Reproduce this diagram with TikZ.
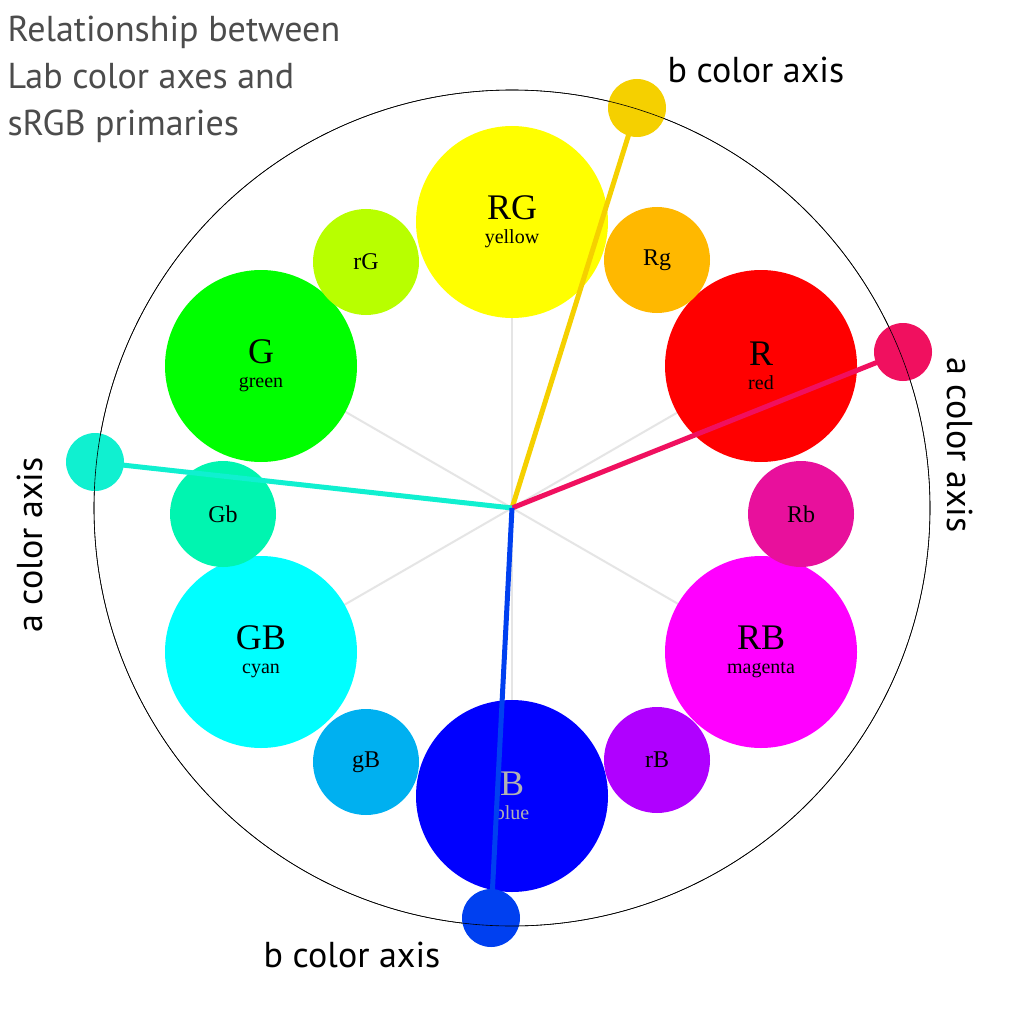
\documentclass[tikz,border=0pt]{standalone}
\usepackage{fontspec}
\setmainfont{Liberation Serif}
\newfontfamily\labfont{PT Sans}
\begin{document}
\begin{tikzpicture}[x=1pt,y=-1pt,
  big/.style={circle,minimum size=192pt,inner sep=0pt,align=center,font=\fontsize{20}{20}\selectfont},
  small/.style={circle,minimum size=106pt,inner sep=0pt,font=\fontsize{24}{24}\selectfont},
  tip/.style={circle,minimum size=58pt,inner sep=0pt},
  axis/.style={line width=5pt},
  spoke/.style={draw=gray!20,line width=2pt},
  lab/.style={font=\labfont\fontsize{36}{36}\selectfont}]
\useasboundingbox[fill=white] (0,0) rectangle (1024,1024);
\coordinate (c) at (512,508);
\draw[line width=0.6pt] (c) circle[radius=418];
\foreach \a in {90,30,-30,-90,-150,150}{\draw[spoke] (c) -- ++(\a:288 and -288);}
\definecolor{cRG}{HTML}{FFFF00}\definecolor{cRg}{HTML}{FFB800}
\definecolor{cR}{HTML}{FF0000}\definecolor{cRb}{HTML}{E8109C}
\definecolor{cRB}{HTML}{FF00FF}\definecolor{crB}{HTML}{B000FF}
\definecolor{cB}{HTML}{0000FF}\definecolor{cgB}{HTML}{00B0F0}
\definecolor{cGB}{HTML}{00FFFF}\definecolor{cGb}{HTML}{00F5B0}
\definecolor{cG}{HTML}{00FF00}\definecolor{crG}{HTML}{B8FF00}
\node[big,fill=cRG] (RG) at (512,222) {{\fontsize{36}{36}\selectfont RG}\\[4pt]yellow};
\node[big,fill=cR] (R) at (761,366) {{\fontsize{36}{36}\selectfont R}\\[4pt]red};
\node[big,fill=cRB] (RB) at (761,652) {{\fontsize{36}{36}\selectfont RB}\\[4pt]magenta};
\node[big,fill=cB,text=gray!60] (B) at (512,796) {{\fontsize{36}{36}\selectfont B}\\[4pt]blue};
\node[big,fill=cGB] (GB) at (261,652) {{\fontsize{36}{36}\selectfont GB}\\[4pt]cyan};
\node[big,fill=cG] (G) at (261,366) {{\fontsize{36}{36}\selectfont G}\\[4pt]green};
\node[small,fill=crG] (rG) at (366,262) {rG};
\node[small,fill=cRg] (Rg) at (657,260) {Rg};
\node[small,fill=cRb] (Rb) at (801,514) {Rb};
\node[small,fill=crB] (rB) at (657,760) {rB};
\node[small,fill=cgB] (gB) at (366,762) {gB};
\node[small,fill=cGb] (Gb) at (223,514) {Gb};
\definecolor{ay}{HTML}{F5D000}\definecolor{ap}{HTML}{F0105F}
\definecolor{ac}{HTML}{10F0D0}\definecolor{ab}{HTML}{0040F0}
\node[tip,fill=ay] (ty) at (637,108) {};
\node[tip,fill=ap] (tp) at (903,352) {};
\node[tip,fill=ac] (tc) at (95,462) {};
\node[tip,fill=ab] (tb) at (491,918) {};
\draw[axis,ay] (c) -- (ty.center);
\draw[axis,ap] (c) -- (tp.center);
\draw[axis,ac] (c) -- (tc.center);
\draw[axis,ab] (c) -- (tb.center);
\draw[line width=0.6pt] (c) circle[radius=418];
\node[lab,anchor=west] (lb1) at (664,70) {b color axis};
\node[lab] (lb2) at (352,955) {b color axis};
\node[lab,rotate=-90] (la1) at (960,445) {a color axis};
\node[lab,rotate=90] (la2) at (30,545) {a color axis};
\node[lab,anchor=north west,align=left,text=black!70,font=\labfont\fontsize{36}{47}\selectfont] (title) at (4,12) {Relationship between\\Lab color axes and\\sRGB primaries};
\end{tikzpicture}
\end{document}
